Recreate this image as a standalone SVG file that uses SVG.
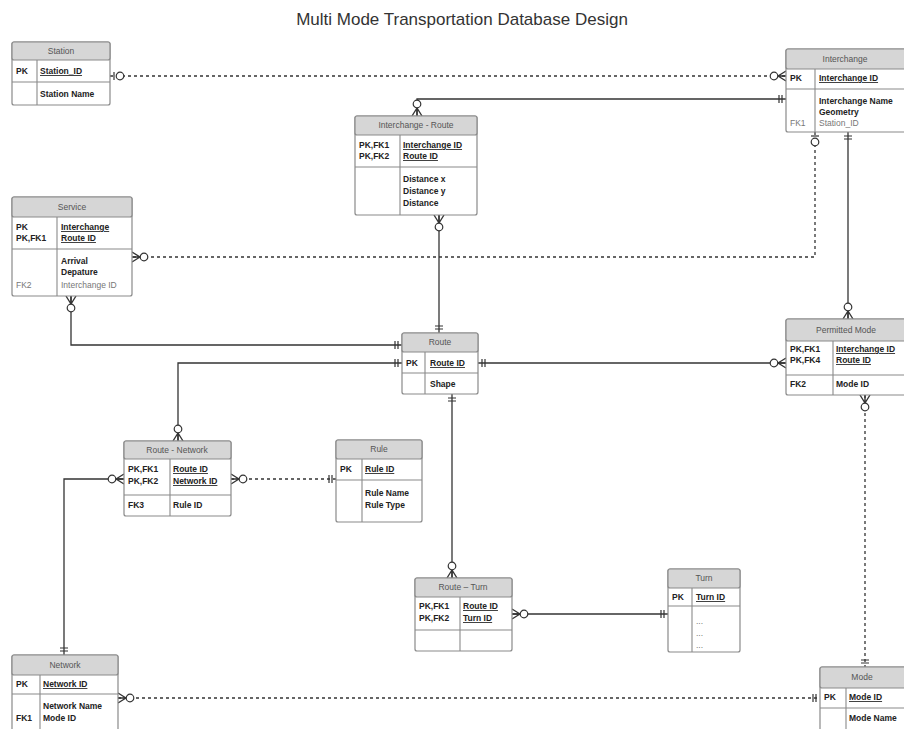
<svg xmlns="http://www.w3.org/2000/svg" width="904" height="729" viewBox="0 0 904 729">
<style>
.box{fill:#fff;stroke:#8a8a8a;stroke-width:1.2}
.hdr{fill:#d6d6d6;stroke:#8a8a8a;stroke-width:1.2}
.ln{stroke:#8a8a8a;stroke-width:1.1;fill:none}
.ht{font-family:"Liberation Sans",Arial,sans-serif;font-size:8.5px;fill:#555;text-anchor:middle}
.t{font-family:"Liberation Sans",Arial,sans-serif;font-size:8.5px;font-weight:bold;fill:#222}
.pk{text-decoration:underline}
.fk{font-weight:normal;fill:#777}
.c{fill:none;stroke:#333;stroke-width:1.3}
.d{stroke-dasharray:3 3}
.title{font-family:"Liberation Sans",Arial,sans-serif;font-size:17px;fill:#333;text-anchor:middle}
</style>
<defs>
<marker id="many" markerUnits="userSpaceOnUse" viewBox="-20 -8 21 16" refX="0" refY="0" markerWidth="21" markerHeight="16" orient="auto-start-reverse" overflow="visible">
<path d="M-8,0 L0,-5 M-8,0 L0,5 M-8,0 L0,0" stroke="#333" stroke-width="1.4" fill="none"/>
<circle cx="-12" cy="0" r="3.8" fill="#fff" stroke="#333" stroke-width="1.2"/>
</marker>
<marker id="one" markerUnits="userSpaceOnUse" viewBox="-20 -8 21 16" refX="0" refY="0" markerWidth="21" markerHeight="16" orient="auto-start-reverse" overflow="visible">
<path d="M-4,-4 V4 M-7,-4 V4" stroke="#333" stroke-width="1.2" fill="none"/>
</marker>
<marker id="oneopt" markerUnits="userSpaceOnUse" viewBox="-20 -8 21 16" refX="0" refY="0" markerWidth="21" markerHeight="16" orient="auto-start-reverse" overflow="visible">
<path d="M-4,-4 V4" stroke="#333" stroke-width="1.2" fill="none"/>
<circle cx="-10" cy="0" r="3.8" fill="#fff" stroke="#333" stroke-width="1.2"/>
</marker>
</defs>
<rect width="904" height="729" fill="#fff"/>
<text class="title" x="462" y="25">Multi Mode Transportation Database Design</text>

<g id="connectors">
<path class="c d" d="M110,76 H786" marker-start="url(#oneopt)" marker-end="url(#many)"/>
<path class="c" d="M786,99 H417 V116" marker-start="url(#one)" marker-end="url(#many)"/>
<path class="c d" d="M815,132 V257 H132" marker-start="url(#oneopt)" marker-end="url(#many)"/>
<path class="c" d="M848,132 V319" marker-start="url(#one)" marker-end="url(#many)"/>
<path class="c" d="M439,215 V333" marker-start="url(#many)" marker-end="url(#one)"/>
<path class="c" d="M71,296 V345 H402" marker-start="url(#many)" marker-end="url(#one)"/>
<path class="c" d="M402,363 H178 V441" marker-start="url(#one)" marker-end="url(#many)"/>
<path class="c" d="M478,363 H786" marker-start="url(#one)" marker-end="url(#many)"/>
<path class="c" d="M452,394 V578" marker-start="url(#one)" marker-end="url(#many)"/>
<path class="c" d="M64,655 V479 H124" marker-start="url(#one)" marker-end="url(#many)"/>
<path class="c d" d="M231,479 H336" marker-start="url(#many)" marker-end="url(#one)"/>
<path class="c" d="M512,614 H668" marker-start="url(#many)" marker-end="url(#one)"/>
<path class="c d" d="M865,395 V667" marker-start="url(#many)" marker-end="url(#one)"/>
<path class="c d" d="M118,698 H820" marker-start="url(#many)" marker-end="url(#one)"/>
</g>

<g id="station">
<rect class="box" x="12" y="42" width="98" height="63" rx="2"/>
<rect class="hdr" x="12" y="42" width="98" height="18" rx="2"/>
<path class="ln" d="M12,82 H110 M37,60 V105"/>
<text class="ht" x="61" y="54">Station</text>
<text class="t" x="16" y="74">PK</text>
<text class="t pk" x="40" y="74">Station_ID</text>
<text class="t" x="40" y="97">Station Name</text>
</g>

<g id="interchange">
<rect class="box" x="786" y="49" width="124" height="83" rx="2"/>
<rect class="hdr" x="786" y="49" width="124" height="20" rx="2"/>
<path class="ln" d="M786,89 H910 M815,69 V132"/>
<text class="ht" x="845" y="62">Interchange</text>
<text class="t" x="790" y="81">PK</text>
<text class="t pk" x="819" y="81">Interchange ID</text>
<text class="t" x="819" y="104">Interchange Name</text>
<text class="t" x="819" y="115">Geometry</text>
<text class="t fk" x="790" y="126">FK1</text>
<text class="t fk" x="819" y="126">Station_ID</text>
</g>

<g id="interchange-route">
<rect class="box" x="355" y="116" width="122" height="99" rx="2"/>
<rect class="hdr" x="355" y="116" width="122" height="19" rx="2"/>
<path class="ln" d="M355,167 H477 M400,135 V215"/>
<text class="ht" x="416" y="128">Interchange - Route</text>
<text class="t" x="359" y="148">PK,FK1</text>
<text class="t pk" x="403" y="148">Interchange ID</text>
<text class="t" x="359" y="159">PK,FK2</text>
<text class="t pk" x="403" y="159">Route ID</text>
<text class="t" x="403" y="182">Distance x</text>
<text class="t" x="403" y="194">Distance y</text>
<text class="t" x="403" y="206">Distance</text>
</g>

<g id="service">
<rect class="box" x="12" y="197" width="120" height="99" rx="2"/>
<rect class="hdr" x="12" y="197" width="120" height="20" rx="2"/>
<path class="ln" d="M12,249 H132 M57,217 V296"/>
<text class="ht" x="72" y="210">Service</text>
<text class="t" x="16" y="230">PK</text>
<text class="t pk" x="61" y="230">Interchange</text>
<text class="t" x="16" y="241">PK,FK1</text>
<text class="t pk" x="61" y="241">Route ID</text>
<text class="t" x="61" y="264">Arrival</text>
<text class="t" x="61" y="275">Depature</text>
<text class="t fk" x="16" y="288">FK2</text>
<text class="t fk" x="61" y="288">Interchange ID</text>
</g>

<g id="route">
<rect class="box" x="402" y="333" width="76" height="61" rx="2"/>
<rect class="hdr" x="402" y="333" width="76" height="19" rx="2"/>
<path class="ln" d="M402,373 H478 M425,352 V394"/>
<text class="ht" x="440" y="345">Route</text>
<text class="t" x="406" y="366">PK</text>
<text class="t pk" x="430" y="366">Route ID</text>
<text class="t" x="430" y="387">Shape</text>
</g>

<g id="permitted-mode">
<rect class="box" x="786" y="319" width="124" height="76" rx="2"/>
<rect class="hdr" x="786" y="319" width="124" height="22" rx="2"/>
<path class="ln" d="M786,375 H910 M833,341 V395"/>
<text class="ht" x="846" y="333">Permitted Mode</text>
<text class="t" x="790" y="352">PK,FK1</text>
<text class="t pk" x="836" y="352">Interchange ID</text>
<text class="t" x="790" y="363">PK,FK4</text>
<text class="t pk" x="836" y="363">Route ID</text>
<text class="t" x="790" y="387">FK2</text>
<text class="t" x="836" y="387">Mode ID</text>
</g>

<g id="route-network">
<rect class="box" x="124" y="441" width="107" height="75" rx="2"/>
<rect class="hdr" x="124" y="441" width="107" height="18" rx="2"/>
<path class="ln" d="M124,495 H231 M170,459 V516"/>
<text class="ht" x="177" y="453">Route - Network</text>
<text class="t" x="128" y="472">PK,FK1</text>
<text class="t pk" x="173" y="472">Route ID</text>
<text class="t" x="128" y="484">PK,FK2</text>
<text class="t pk" x="173" y="484">Network ID</text>
<text class="t" x="128" y="508">FK3</text>
<text class="t" x="173" y="508">Rule ID</text>
</g>

<g id="rule">
<rect class="box" x="336" y="440" width="86" height="82" rx="2"/>
<rect class="hdr" x="336" y="440" width="86" height="19" rx="2"/>
<path class="ln" d="M336,480 H422 M362,459 V522"/>
<text class="ht" x="379" y="452">Rule</text>
<text class="t" x="340" y="472">PK</text>
<text class="t pk" x="365" y="472">Rule ID</text>
<text class="t" x="365" y="496">Rule Name</text>
<text class="t" x="365" y="508">Rule Type</text>
</g>

<g id="route-turn">
<rect class="box" x="415" y="578" width="97" height="73" rx="2"/>
<rect class="hdr" x="415" y="578" width="97" height="19" rx="2"/>
<path class="ln" d="M415,630 H512 M460,597 V651"/>
<text class="ht" x="463" y="590">Route – Turn</text>
<text class="t" x="419" y="609">PK,FK1</text>
<text class="t pk" x="463" y="609">Route ID</text>
<text class="t" x="419" y="621">PK,FK2</text>
<text class="t pk" x="463" y="621">Turn ID</text>
</g>

<g id="turn">
<rect class="box" x="668" y="569" width="72" height="83" rx="2"/>
<rect class="hdr" x="668" y="569" width="72" height="19" rx="2"/>
<path class="ln" d="M668,606 H740 M692,588 V652"/>
<text class="ht" x="704" y="581">Turn</text>
<text class="t" x="672" y="600">PK</text>
<text class="t pk" x="696" y="600">Turn ID</text>
<text class="t fk" x="696" y="624">...</text>
<text class="t fk" x="696" y="636">...</text>
<text class="t fk" x="696" y="648">...</text>
</g>

<g id="network">
<rect class="box" x="12" y="655" width="106" height="80" rx="2"/>
<rect class="hdr" x="12" y="655" width="106" height="20" rx="2"/>
<path class="ln" d="M12,694 H118 M40,675 V735"/>
<text class="ht" x="65" y="668">Network</text>
<text class="t" x="16" y="687">PK</text>
<text class="t pk" x="43" y="687">Network ID</text>
<text class="t" x="43" y="709">Network Name</text>
<text class="t" x="16" y="721">FK1</text>
<text class="t" x="43" y="721">Mode ID</text>
</g>

<g id="mode">
<rect class="box" x="820" y="667" width="90" height="70" rx="2"/>
<rect class="hdr" x="820" y="667" width="90" height="21" rx="2"/>
<path class="ln" d="M820,708 H910 M846,688 V737"/>
<text class="ht" x="862" y="680">Mode</text>
<text class="t" x="824" y="700">PK</text>
<text class="t pk" x="849" y="700">Mode ID</text>
<text class="t" x="849" y="721">Mode Name</text>
</g>
</svg>
